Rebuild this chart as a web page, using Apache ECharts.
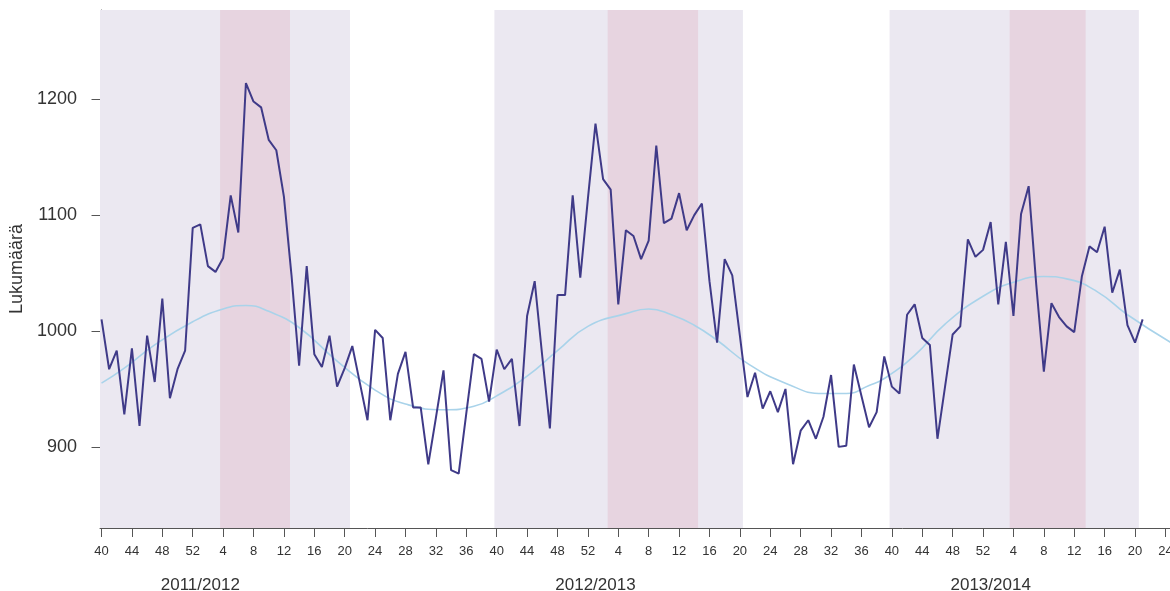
<!DOCTYPE html>
<html><head><meta charset="utf-8">
<script src="https://cdn.jsdelivr.net/npm/echarts@6/dist/echarts.min.js"></script>
<style>html,body{margin:0;padding:0;background:#fff}#c{width:1170px;height:591px}</style>
</head><body><div id="c"></div>
<script>
// Weekly counts, one value per week starting at week 40 of 2011 (index 0)
const weeklyCounts = [
  1010, 967, 983, 928, 985, 918, 996, 956, 1028, 942,
  967, 983, 1089, 1092, 1056, 1051, 1063, 1117, 1085, 1214,
  1198, 1193, 1165, 1156, 1116, 1048, 970, 1056, 980, 969,
  996, 952, 968, 987, 955, 923, 1001, 994, 923, 963,
  982, 934, 934, 885, 925, 966, 880, 877, 929, 980,
  976, 939, 984, 967, 976, 918, 1013, 1043, 978, 916,
  1031, 1031, 1117, 1046, 1114, 1179, 1131, 1122, 1023, 1087,
  1082, 1062, 1078, 1160, 1093, 1097, 1119, 1087, 1100, 1110,
  1043, 990, 1062, 1048, 996, 943, 964, 933, 948, 930,
  950, 885, 914, 923, 907, 926, 962, 900, 901, 971,
  944, 917, 930, 978, 952, 946, 1014, 1023, 994, 988,
  907, 952, 997, 1004, 1079, 1064, 1070, 1094, 1023, 1077,
  1013, 1101, 1125, 1040, 965, 1024, 1012, 1004, 999, 1047,
  1073, 1068, 1090, 1033, 1053, 1005, 990, 1010
];
// Expected (baseline) curve, read at selected week indices
const baselineWeek  = [0, 3, 7, 12, 16, 19, 22, 26, 31, 36, 40, 45, 49, 52, 56, 60, 64, 69, 72, 75, 78, 81, 85, 90, 95, 98, 101, 103, 107, 111, 116, 120, 124, 127, 131, 135, 141];
const baselineValue = [955, 968, 988, 1008, 1019, 1022, 1017, 1003, 974, 949, 937, 932, 935, 944, 961, 983, 1004, 1015, 1019, 1014, 1005, 992, 972, 955, 946, 946, 953, 959, 979, 1006, 1030, 1042, 1047, 1045, 1034, 1014, 989];

const tickWeeks  = [0,4,8,12,16,20,24,28,32,36,40,44,48,52,56,60,64,68,72,76,80,84,88,92,96,100,104,108,112,116,120,124,128,132,136,140];
const tickLabels = ['40','44','48','52','4','8','12','16','20','24','28','32','36',
                    '40','44','48','52','4','8','12','16','20','24','28','32','36',
                    '40','44','48','52','4','8','12','16','20','24'];
const seasonNames = ['2011/2012', '2012/2013', '2013/2014'];
const seasonLabelWeek = [13, 65, 117];
const seasonSpans = [[-0.2, 32.7], [51.7, 84.4], [103.7, 136.5]];
const peakSpans = [[15.6, 24.8], [66.6, 78.5], [119.5, 129.5]];
const yTicks = [900, 1000, 1100, 1200];

const FONT = "'Liberation Sans', Arial, Helvetica, sans-serif";
const chart = echarts.init(document.getElementById('c'), null, {renderer: 'canvas'});

const areaData = [];
seasonSpans.forEach(s => areaData.push([{xAxis: s[0], itemStyle: {color: '#ebe8f1', opacity: 1}}, {xAxis: s[1]}]));
peakSpans.forEach(s => areaData.push([{xAxis: s[0], itemStyle: {color: '#e7d4e0', opacity: 1}}, {xAxis: s[1]}]));

const option = {
  animation: false,
  backgroundColor: '#ffffff',
  grid: {left: 100, right: 0, top: 10, bottom: 63, containLabel: false, outerBoundsMode: 'none'},
  xAxis: [{
    type: 'value', min: -0.2, max: 140.6,
    axisLine: {show: true, lineStyle: {color: '#555', width: 1}},
    axisTick: {show: true, customValues: tickWeeks, length: 9, lineStyle: {color: '#555'}},
    axisLabel: {customValues: tickWeeks, formatter: v => tickLabels[tickWeeks.indexOf(Math.round(v))],
                fontSize: 13, color: '#333', margin: 17, fontFamily: FONT},
    splitLine: {show: false}
  }, {
    type: 'value', min: -0.2, max: 140.6, position: 'bottom',
    axisLine: {show: false}, axisTick: {show: false}, splitLine: {show: false},
    axisLabel: {customValues: seasonLabelWeek, formatter: v => seasonNames[seasonLabelWeek.indexOf(Math.round(v))],
                fontSize: 17, color: '#333', margin: 49, fontFamily: FONT}
  }],
  yAxis: {
    type: 'value', min: 830, max: 1277,
    name: 'Lukumäärä', nameLocation: 'middle', nameGap: 73,
    nameTextStyle: {fontSize: 18, color: '#333', fontFamily: FONT},
    axisLine: {show: true, lineStyle: {color: '#555', width: 1}},
    axisTick: {show: true, customValues: yTicks, length: 10, lineStyle: {color: '#555'}},
    axisLabel: {customValues: yTicks, formatter: v => String(Math.round(v)), fontSize: 18, color: '#333', margin: 23, fontFamily: FONT},
    splitLine: {show: false}
  },
  series: [{
    type: 'line', data: [], z: 0, silent: true,
    markArea: {silent: true, data: areaData}
  }, {
    type: 'line', name: 'baseline', smooth: true, symbol: 'none', z: 3,
    data: baselineWeek.map((w, i) => [w, baselineValue[i]]),
    lineStyle: {color: '#a9d3ea', width: 1.6}
  }, {
    type: 'line', name: 'count', symbol: 'none', z: 4,
    data: weeklyCounts.map((v, i) => [i, v]),
    lineStyle: {color: '#3f3a88', width: 2}
  }]
};
chart.setOption(option);
</script>
</body></html>
